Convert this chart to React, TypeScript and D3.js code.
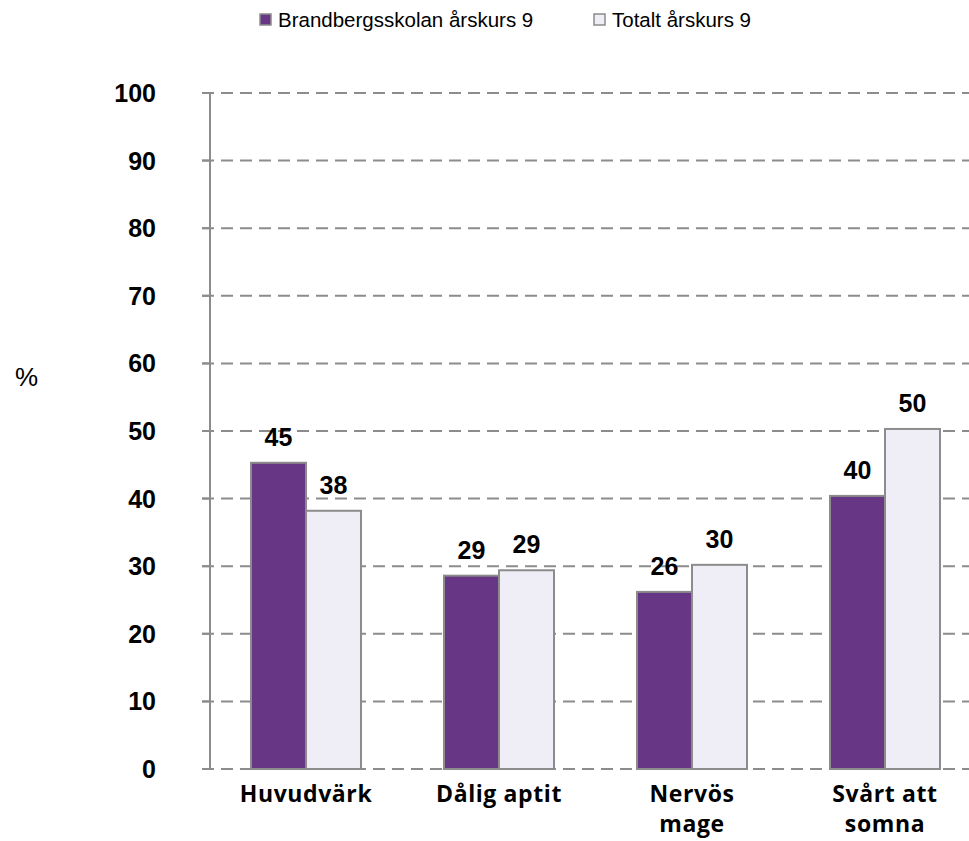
import React from "react";
import * as d3 from "d3";

const categories: string[][] = [["Huvudvärk"], ["Dålig aptit"], ["Nervös", "mage"], ["Svårt att", "somna"]];
const seriesNames = ["Brandbergsskolan årskurs 9", "Totalt årskurs 9"];
const schoolValues = [45.3, 28.6, 26.2, 40.4];
const totalValues = [38.2, 29.4, 30.2, 50.3];
const valueLabels = [["45", "29", "26", "40"], ["38", "29", "30", "50"]];
const yTicks = [0, 10, 20, 30, 40, 50, 60, 70, 80, 90, 100];

const W = 969;
const H = 841;
const colors = ["#673785", "#efedf5"];
const grey = "#8c8c8c";
const arial = "'Liberation Sans', Arial, sans-serif";
const catFont = "'Open Sans', sans-serif";

export default function App() {
  const y = d3.scaleLinear().domain([0, 100]).range([769, 93]);
  const keys = categories.map((c) => c.join(" "));
  const x = d3.scaleBand<string>().domain(keys).range([209.5, 981.5]).padding(0);
  const series = [schoolValues, totalValues];
  const inner = d3.scaleBand<number>().domain([0, 1]).range([0, 110]).padding(0);
  const axisX = 210;

  return (
    <svg width={W} height={H} style={{ position: "absolute", left: 0, top: 0, background: "#fff" }}>
      {/* legend */}
      {seriesNames.map((name, i) => {
        const lx = i === 0 ? 260 : 594;
        return (
          <g key={name}>
            <rect x={lx} y={14} width={11} height={11} fill={colors[i]} stroke={grey} strokeWidth={1.5} />
            <text x={lx + 18} y={27} fontFamily={arial} fontSize={20.5} fill="#000">
              {name}
            </text>
          </g>
        );
      })}

      {/* % label */}
      <text x={15} y={386} fontFamily={arial} fontSize={26} fill="#000">%</text>

      {/* gridlines */}
      {yTicks.map((t) => (
        <g key={t}>
          <line x1={202} x2={axisX} y1={y(t)} y2={y(t)} stroke={grey} strokeWidth={2} />
          <line x1={202} x2={W} y1={y(t)} y2={y(t)} stroke={grey} strokeWidth={2} strokeDasharray="12 7" />
          <text
            x={156}
            y={y(t)}
            textAnchor="end"
            dominantBaseline="central"
            fontFamily={arial}
            fontWeight="bold"
            fontSize={25}
            fill="#000"
          >
            {t}
          </text>
        </g>
      ))}

      {/* y axis */}
      <line x1={axisX} x2={axisX} y1={y(100)} y2={y(0)} stroke={grey} strokeWidth={2} />

      {/* bars */}
      {keys.map((k, ci) => {
        const cx = (x(k) as number) + x.bandwidth() / 2;
        const gx = cx - 55;
        return (
          <g key={k}>
            {series.map((vals, si) => {
              const bx = gx + (inner(si) as number);
              const top = y(vals[ci]);
              return (
                <g key={si}>
                  <rect
                    x={bx}
                    y={top}
                    width={inner.bandwidth()}
                    height={y(0) - top}
                    fill={colors[si]}
                    stroke={grey}
                    strokeWidth={2}
                  />
                  <text
                    x={bx + inner.bandwidth() / 2}
                    y={top - 17}
                    textAnchor="middle"
                    fontFamily={arial}
                    fontWeight="bold"
                    fontSize={25}
                    fill="#000"
                  >
                    {valueLabels[si][ci]}
                  </text>
                </g>
              );
            })}
            {categories[ci].map((line, li) => (
              <text
                key={li}
                x={cx}
                y={802 + li * 30}
                textAnchor="middle"
                fontFamily={catFont}
                fontWeight="bold"
                fontSize={23}
                letterSpacing={0.6}
                fill="#000"
              >
                {line}
              </text>
            ))}
          </g>
        );
      })}
    </svg>
  );
}
